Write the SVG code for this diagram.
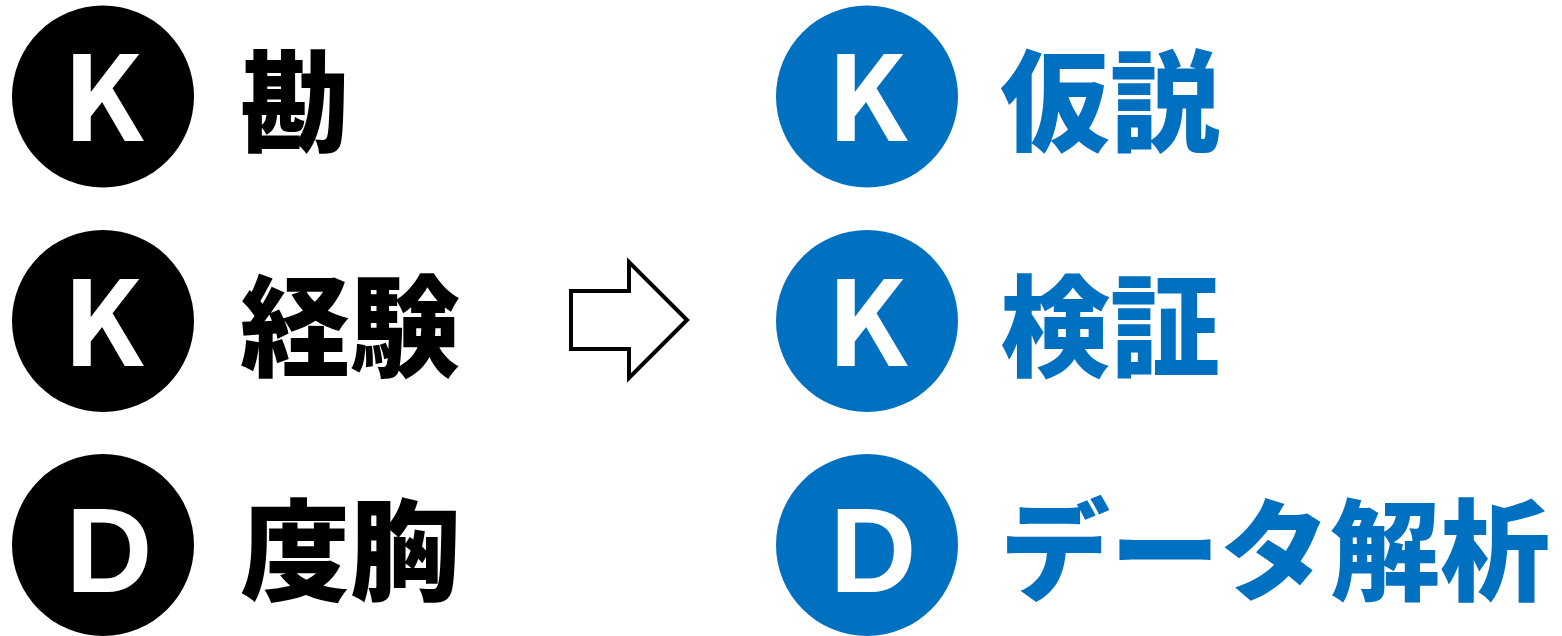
<svg xmlns="http://www.w3.org/2000/svg" width="1562" height="636" viewBox="0 0 1562 636">
<style>
.cb{fill:#000}
.cl{fill:#0070C0}
.ltr{font-family:"Noto Sans CJK JP","Noto Sans",sans-serif;font-weight:700;font-size:118px;fill:#fff;text-anchor:middle}
.ltd{font-family:"Liberation Sans",Arial,sans-serif;font-weight:700;font-size:120px;fill:#fff;text-anchor:middle}
.lbl{font-family:"Noto Sans CJK JP",sans-serif;font-weight:900;font-size:110px}
.lb{fill:#000}
.ll{fill:#0070C0}
</style>
<rect width="1562" height="636" fill="#fff"/>
<g id="left-k1"><circle class="cb" cx="103" cy="96.5" r="91"/><text class="ltr" x="103" y="141">K</text><text class="lbl lb" x="240" y="143">勘</text></g>
<g id="left-k2"><circle class="cb" cx="103" cy="321" r="91"/><text class="ltr" x="103" y="366">K</text><text class="lbl lb" x="240" y="368">経験</text></g>
<g id="left-d"><circle class="cb" cx="103" cy="545" r="91"/><text class="ltr ltd" x="109" y="592">D</text><text class="lbl lb" x="240" y="592">度胸</text></g>
<g id="right-k1"><circle class="cl" cx="867" cy="96.5" r="91"/><text class="ltr" x="867" y="141">K</text><text class="lbl ll" x="1000" y="143">仮説</text></g>
<g id="right-k2"><circle class="cl" cx="867" cy="321" r="91"/><text class="ltr" x="867" y="366">K</text><text class="lbl ll" x="1000" y="368">検証</text></g>
<g id="right-d"><circle class="cl" cx="867" cy="545" r="91"/><text class="ltr ltd" x="873" y="592">D</text><text class="lbl ll" x="1000" y="592">データ解析</text></g>
<g id="connectors"><polygon points="571,291 629,291 629,262 687,320 629,378 629,349 571,349" fill="#fff" stroke="#000" stroke-width="4" stroke-linejoin="miter"/></g>
</svg>
